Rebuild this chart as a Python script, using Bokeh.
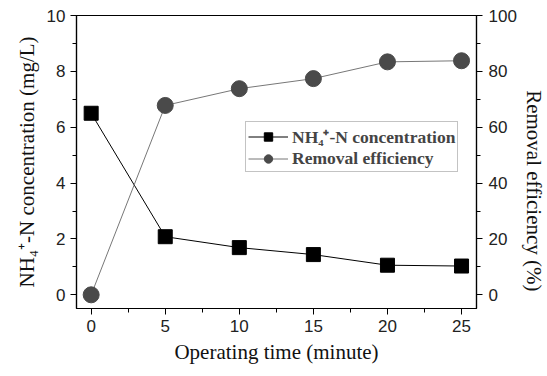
from bokeh.plotting import figure
from bokeh.models import Range1d, LinearAxis, SingleIntervalTicker, Legend, LegendItem
from bokeh.embed import file_html
from bokeh.resources import INLINE

time_min = [0, 5, 10, 15, 20, 25]
nh4_conc = [6.5, 2.08, 1.69, 1.44, 1.06, 1.03]
removal_eff = [0, 67.8, 73.8, 77.4, 83.4, 83.8]

p = figure(frame_width=400, frame_height=293, output_backend="svg", toolbar_location=None,
           x_range=Range1d(-0.99, 26.01), y_range=Range1d(-0.49, 10),
           min_border_left=76, min_border_right=62, min_border_top=15, min_border_bottom=60)
p.extra_y_ranges = {"eff": Range1d(-4.9, 100)}
p.grid.visible = False
p.outline_line_color = "black"
p.outline_line_width = 1.2

def style(ax, label, interval, minor):
    ax.axis_label = label
    ax.ticker = SingleIntervalTicker(interval=interval, num_minor_ticks=minor)
    ax.major_tick_in = 0
    ax.major_tick_out = 6
    ax.minor_tick_in = 0
    ax.minor_tick_out = 4
    ax.axis_line_width = 1.2
    ax.major_label_text_font = "Liberation Sans"
    ax.major_label_text_font_size = "17px"
    ax.major_label_text_color = "#222222"
    ax.axis_label_text_font = "Liberation Serif"
    ax.axis_label_text_font_style = "normal"
    ax.axis_label_text_font_size = "21px"
    ax.axis_label_text_color = "#111111"

style(p.xaxis[0], "Operating time (minute)", 5, 2)
style(p.yaxis[0], "NH\u2084\u207a-N concentration (mg/L)", 2, 2)
rax = LinearAxis(y_range_name="eff")
style(rax, "\u00a0" * 11 + "Removal efficiency (%)", 20, 2)
rax.axis_label_text_font_size = "21px"
rax.major_label_standoff = 6
rax.axis_label_standoff = 2
p.add_layout(rax, "right")

l1 = p.line(time_min, nh4_conc, line_color="black", line_width=1)
s1 = p.scatter(time_min, nh4_conc, marker="square", size=14, fill_color="black", line_color="black")
l2 = p.line(time_min, removal_eff, line_color="#777777", line_width=1, y_range_name="eff")
s2 = p.scatter(time_min, removal_eff, marker="circle", size=16, fill_color="#4a4a4a",
               line_color="#4a4a4a", y_range_name="eff")

legend = Legend(items=[LegendItem(label="NH\u2084\u207a-N concentration", renderers=[l1, s1]),
                       LegendItem(label="Removal efficiency", renderers=[l2, s2])],
                location=(169, 136))
legend.label_text_font = "Liberation Serif"
legend.label_text_font_style = "bold"
legend.label_text_font_size = "17.5px"
legend.border_line_color = "#888888"
legend.border_line_width = 1
legend.glyph_width = 40
legend.spacing = 0
legend.padding = 2
legend.margin = 0
legend.label_height = 21
legend.glyph_height = 21
legend.label_standoff = 4
legend.background_fill_alpha = 1
p.add_layout(legend, "center")

open("out.html", "w").write(file_html(p, INLINE))
